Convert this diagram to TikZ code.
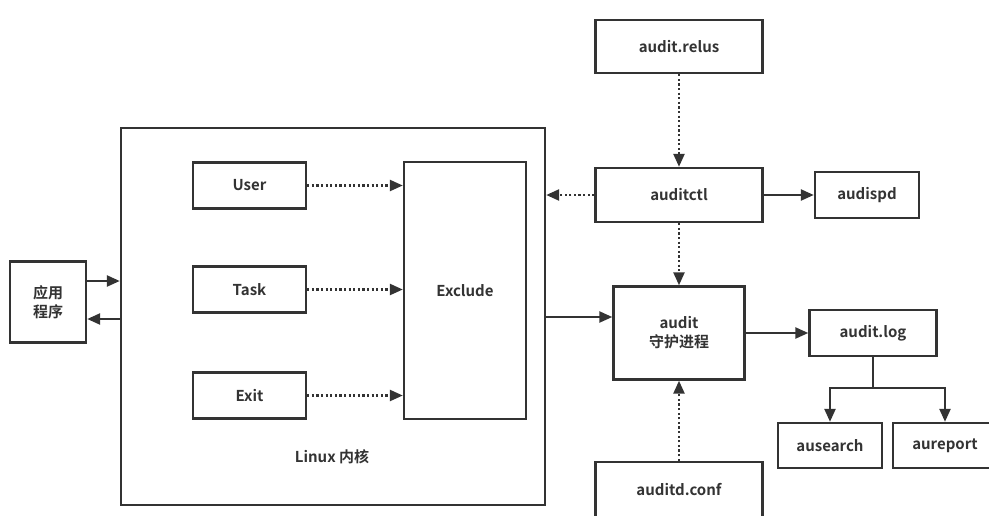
\documentclass[tikz,border=0pt]{standalone}
\usepackage{fontspec}
\setmainfont{Noto Sans CJK SC}[BoldFont={Noto Sans CJK SC Bold}]
\usetikzlibrary{arrows.meta}
\definecolor{ink}{HTML}{333333}
\begin{document}
\begin{tikzpicture}[x=1pt,y=-1pt,
  box/.style={draw=ink, line width=2.4pt, font=\bfseries\fontsize{15}{19}\selectfont, text=ink, inner sep=0pt, align=center},
  conn/.style={draw=ink, line width=2.4pt, -{Triangle[length=13pt,width=11pt]}},
  dots/.style={conn, dash pattern=on 2.2pt off 2.4pt}]
\fill[white] (0,0) rectangle (989,515);
\useasboundingbox (0,0) rectangle (989,515);
\clip (0,0) rectangle (989,515);
% nodes
\node[box, minimum width=76pt, minimum height=81pt] (app) at (48,302) {应用\\程序};
\node[box, minimum width=424pt, minimum height=377pt] (kernel) at (333,316.5) {};
\node[font=\bfseries\fontsize{15}{19}\selectfont, text=ink] (klabel) at (332,457) {Linux 内核};
\node[box, minimum width=113pt, minimum height=46pt] (user) at (249.5,185.5) {User};
\node[box, minimum width=113pt, minimum height=46pt] (task) at (249.5,289.5) {Task};
\node[box, minimum width=113pt, minimum height=46pt] (exit) at (249.5,395.5) {Exit};
\node[box, minimum width=122pt, minimum height=257pt] (exclude) at (465,290.5) {Exclude};
\node[box, minimum width=167pt, minimum height=53pt] (relus) at (679,46.5) {audit.relus};
\node[box, minimum width=167pt, minimum height=54pt] (ctl) at (679,195) {auditctl};
\node[box, minimum width=104pt, minimum height=46pt] (dispd) at (867,195) {audispd};
\node[box, minimum width=131pt, minimum height=93pt] (daemon) at (679,333) {audit\\守护进程};
\node[box, minimum width=127pt, minimum height=46pt] (log) at (873,333) {audit.log};
\node[box, minimum width=104pt, minimum height=45pt] (search) at (830,445.5) {ausearch};
\node[box, minimum width=104pt, minimum height=45pt] (report) at (945,445.5) {aureport};
\node[box, minimum width=167pt, minimum height=56pt] (conf) at (679,490) {auditd.conf};
% helper coordinates
\coordinate (ya) at (0,281);
\coordinate (yb) at (0,319);
\coordinate (yc) at (0,317);
\coordinate (yj) at (0,388);
% connectors
\draw[conn] (app.east |- ya) -- (kernel.west |- ya);
\draw[conn] (kernel.west |- yb) -- (app.east |- yb);
\draw[dots] (user.east) -- (exclude.west |- user.east);
\draw[dots] (task.east) -- (exclude.west |- task.east);
\draw[dots] (exit.east) -- (exclude.west |- exit.east);
\draw[dots] (ctl.west) -- (kernel.east |- ctl.west);
\draw[conn] (ctl.east) -- (dispd.west);
\draw[dots] (relus.south) -- (ctl.north);
\draw[dots] (ctl.south) -- (daemon.north);
\draw[conn] (kernel.east |- yc) -- (daemon.west |- yc);
\draw[conn] (daemon.east |- log.west) -- (log.west);
\draw[conn] (log.south) -- (log.south |- yj) -| (search.north);
\draw[conn] (log.south |- yj) -| (report.north);
\draw[dots] (conf.north) -- (daemon.south);
\end{tikzpicture}
\end{document}
